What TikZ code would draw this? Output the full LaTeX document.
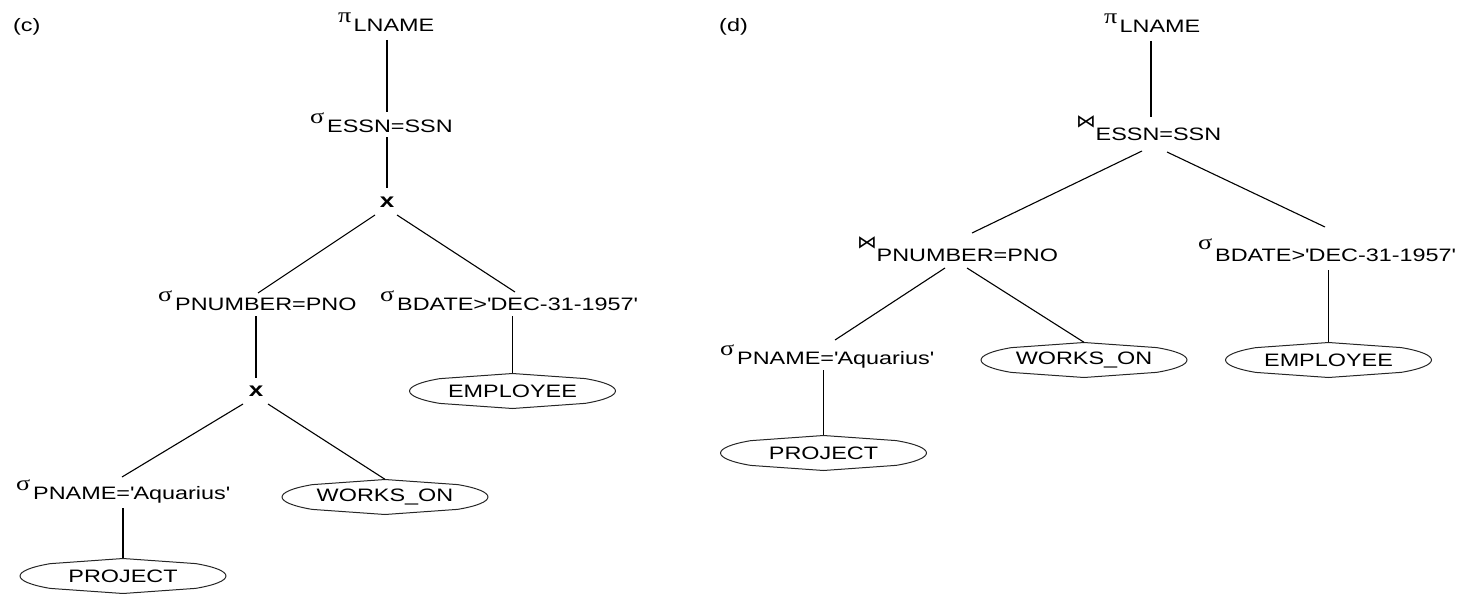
\documentclass[tikz,border=0pt]{standalone}
\usepackage{fontspec}
\setmainfont{Liberation Sans}[FakeStretch=1.3]
\newfontfamily\greekfont{Liberation Serif}[FakeStretch=1.25]
\newfontfamily\bowfont{DejaVu Sans}[FakeStretch=1.1]
\usetikzlibrary{calc}

% operator symbols set before their (larger) subscript text
\newcommand\opsel[1][9pt]{\makebox[17pt][l]{\raisebox{#1}{\greekfont\fontsize{21pt}{21pt}\selectfont σ}}}
\newcommand\opproj{\makebox[15.5pt][l]{\raisebox{9pt}{\greekfont\fontsize{21pt}{21pt}\selectfont π}}}
\newcommand\opjoin{\makebox[19.5pt][l]{\raisebox{13pt}{\bowfont\fontsize{18pt}{18pt}\selectfont ⋈}}}
\newcommand\sq{\textquotesingle}

% outline of a base relation: straight top and bottom, rounded ends
\newcommand\relshape[1]{%
  \draw[relline, shift={(#1.center)}]
    (72.8,-12.4) arc[start angle=-45, end angle=45, x radius=103, y radius=17.5]
    -- (0,17.5) -- (-72.8,12.4)
    arc[start angle=135, end angle=225, x radius=103, y radius=17.5]
    -- (0,-17.5) -- cycle;}

\tikzset{
  every node/.style={font=\fontsize{18pt}{20pt}\selectfont, inner sep=0pt},
  op/.style={anchor=base west},
  tag/.style={anchor=base west},
  prod/.style={anchor=center, font=\fontsize{20pt}{22pt}\selectfont\bfseries},
  rel/.style={minimum width=206pt, minimum height=35pt},
  link/.style={line width=1.1pt, black},
  relline/.style={line width=1pt, black!85},
}

\begin{document}
\begin{tikzpicture}[x=1pt,y=-1pt]
\useasboundingbox (0,0) rectangle (1461,594);

% ---------- tree (c) ----------
\node[tag] (c-tag) at (13,32) {(c)};
\node[op] (c-pi) at (338,32) {\opproj LNAME};
\node[op] (c-essn) at (310,132) {\opsel ESSN=SSN};
\node[prod] (c-x1) at (387,202) {x};
\node[op] (c-pno) at (158,310) {\opsel PNUMBER=PNO};
\node[op] (c-bdate) at (380,310) {\opsel BDATE>\sq DEC-31-1957\sq};
\node[prod] (c-x2) at (256,391) {x};
\node[op] (c-pname) at (16,499) {\opsel PNAME=\sq Aquarius\sq};
\node[rel] (c-works) at (385,497) {WORKS\_ON};
\node[rel] (c-emp) at (512.5,391) {EMPLOYEE};
\node[rel] (c-project) at (123,576) {PROJECT};
\relshape{c-works}
\relshape{c-emp}
\relshape{c-project}

\draw[link] ($(c-pi.base west)+(49,8)$) -- ($(c-essn.base west)+(77,-20)$);
\draw[link] ($(c-essn.base west)+(77,5)$) -- ($(c-x1)+(0,-14)$);
\draw[link] ($(c-x1)+(-12,13)$) -- ($(c-pno.base west)+(100,-17)$);
\draw[link] ($(c-x1)+(10,13)$) -- ($(c-bdate.base west)+(135,-18)$);
\draw[link] ($(c-pno.base west)+(98,6)$) -- ($(c-x2)+(0,-13)$);
\draw[link] ($(c-bdate.base west)+(132.5,6)$) -- (c-emp.north);
\draw[link] ($(c-x2)+(-13,13)$) -- ($(c-pname.base west)+(106,-22)$);
\draw[link] ($(c-x2)+(12,13)$) -- (c-works.north);
\draw[link] ($(c-pname.base west)+(107,9)$) -- (c-project.north);

% ---------- tree (d) ----------
\node[tag] (d-tag) at (719,32) {(d)};
\node[op] (d-pi) at (1104,33) {\opproj LNAME};
\node[op] (d-essn) at (1076,140) {\opjoin ESSN=SSN};
\node[op] (d-pno) at (857,261) {\opjoin PNUMBER=PNO};
\node[op] (d-bdate) at (1198,261) {\opsel[12pt]BDATE>\sq DEC-31-1957\sq};
\node[op] (d-pname) at (720,364) {\opsel PNAME=\sq Aquarius\sq};
\node[rel] (d-project) at (823.5,453) {PROJECT};
\node[rel] (d-works) at (1084,360) {WORKS\_ON};
\node[rel] (d-emp) at (1328.5,360) {EMPLOYEE};
\relshape{d-project}
\relshape{d-works}
\relshape{d-emp}

\draw[link] ($(d-pi.base west)+(47,8)$) -- ($(d-essn.base west)+(75,-23)$);
\draw[link] ($(d-essn.base west)+(66,11)$) -- ($(d-pno.base west)+(115,-28)$);
\draw[link] ($(d-essn.base west)+(91,12)$) -- ($(d-bdate.base west)+(127,-34)$);
\draw[link] ($(d-pno.base west)+(88,7)$) -- ($(d-pname.base west)+(115,-24)$);
\draw[link] ($(d-pno.base west)+(110,7)$) -- (d-works.north);
\draw[link] ($(d-bdate.base west)+(130.5,9)$) -- (d-emp.north);
\draw[link] ($(d-pname.base west)+(103.5,6)$) -- (d-project.north);
\end{tikzpicture}
\end{document}
